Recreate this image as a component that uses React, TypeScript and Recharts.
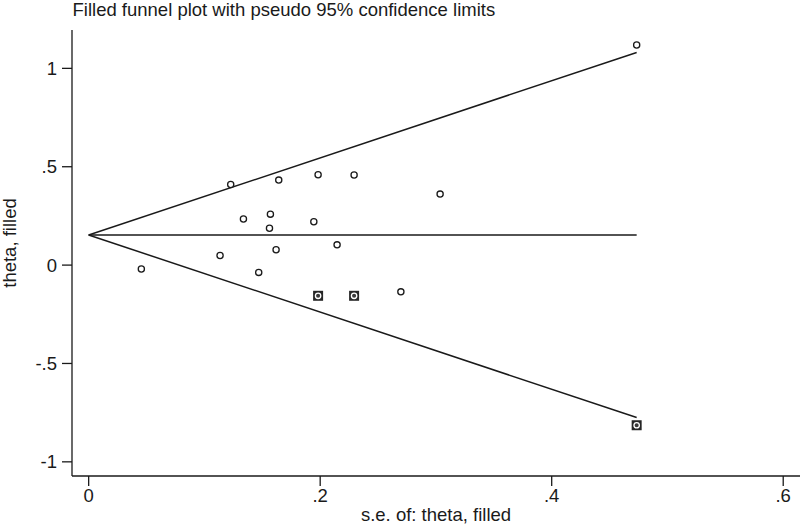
import React from 'react';
import { ComposedChart, Scatter, XAxis, YAxis, Label } from 'recharts';

// Observed studies
const seObserved = [0.0455, 0.1135, 0.1227, 0.1337, 0.1469, 0.1562, 0.157, 0.1619, 0.1642, 0.1945, 0.1982, 0.2146, 0.2293, 0.2697, 0.3036, 0.4734];
const thetaObserved = [-0.02, 0.049, 0.41, 0.234, -0.037, 0.187, 0.259, 0.078, 0.432, 0.22, 0.459, 0.103, 0.458, -0.136, 0.361, 1.119];

// Imputed (filled) studies
const seFilled = [0.1982, 0.2293, 0.4734];
const thetaFilled = [-0.156, -0.156, -0.814];

// Funnel lines (pseudo 95% limits and pooled estimate)
const funnelSe = [0, 0.4734];
const funnelUpper = [0.153, 1.081];
const funnelLower = [0.153, -0.775];
const pooledLine = [0.153, 0.153];

const xTicks = [0, 0.2, 0.4, 0.6];
const yTicks = [-1, -0.5, 0, 0.5, 1];

const title = 'Filled funnel plot with pseudo 95% confidence limits';
const xTitle = 's.e. of: theta, filled';
const yTitle = 'theta, filled';

const toPts = (xs: number[], ys: number[]) => xs.map((x, i) => ({ se: x, theta: ys[i] }));
const observedData = toPts(seObserved, thetaObserved);
const filledData = toPts(seFilled, thetaFilled);
const upperData = toPts(funnelSe, funnelUpper);
const lowerData = toPts(funnelSe, funnelLower);
const pooledData = toPts(funnelSe, pooledLine);

const FONT = '"Liberation Sans", Arial, sans-serif';
const INK = '#1a1a1a';

const fmt = (v: number) => {
  if (v === 0) return '0';
  const s = String(v);
  return s.replace(/^(-?)0\./, '$1.');
};

const OpenCircle = (props: any) => {
  const { cx, cy } = props;
  return <circle cx={cx} cy={cy} r={3.1} fill="#fff" stroke={INK} strokeWidth={1.3} />;
};

const FilledMarker = (props: any) => {
  const { cx, cy } = props;
  return (
    <g>
      <rect x={cx - 5} y={cy - 5} width={10} height={10} fill="#262626" />
      <circle cx={cx} cy={cy} r={2.7} fill="#3a3a3a" stroke="#fff" strokeWidth={1.3} />
    </g>
  );
};

const NoShape = () => <g />;

export default function App() {
  return (
    <div style={{ position: 'absolute', left: 0, top: 0, width: 800, height: 524, background: '#fff' }}>
      <ComposedChart width={800} height={524} margin={{ top: 30, right: 0, bottom: 0, left: 0 }}>
        <XAxis
          type="number"
          dataKey="se"
          domain={[-0.0144, 0.6145]}
          allowDataOverflow
          ticks={xTicks}
          tickFormatter={fmt}
          height={48}
          tickSize={10}
          tickMargin={3}
          axisLine={{ stroke: INK, strokeWidth: 1.3 }}
          tickLine={{ stroke: INK, strokeWidth: 1.3 }}
          tick={{ fill: INK, fontSize: 18.5, fontFamily: FONT }}
        >
          <Label value={xTitle} position="insideBottom" offset={3} fill={INK} fontSize={18.5} fontFamily={FONT} />
        </XAxis>
        <YAxis
          type="number"
          dataKey="theta"
          domain={[-1.072, 1.195]}
          allowDataOverflow
          ticks={yTicks}
          tickFormatter={fmt}
          width={72}
          tickSize={10}
          tickMargin={5}
          axisLine={{ stroke: INK, strokeWidth: 1.3 }}
          tickLine={{ stroke: INK, strokeWidth: 1.3 }}
          tick={{ fill: INK, fontSize: 18.5, fontFamily: FONT }}
        >
          <Label
            content={() => (
              <text
                x={16}
                y={243}
                transform="rotate(-90, 16, 243)"
                textAnchor="middle"
                fill={INK}
                fontSize={18.5}
                fontFamily={FONT}
              >
                {yTitle}
              </text>
            )}
          />
        </YAxis>
        <Scatter data={upperData} line={{ stroke: INK, strokeWidth: 1.5 }} shape={NoShape} isAnimationActive={false} legendType="none" />
        <Scatter data={lowerData} line={{ stroke: INK, strokeWidth: 1.5 }} shape={NoShape} isAnimationActive={false} legendType="none" />
        <Scatter data={pooledData} line={{ stroke: INK, strokeWidth: 1.5 }} shape={NoShape} isAnimationActive={false} legendType="none" />
        <Scatter data={observedData} shape={OpenCircle} isAnimationActive={false} legendType="none" />
        <Scatter data={filledData} shape={FilledMarker} isAnimationActive={false} legendType="none" />
      </ComposedChart>
      <div
        style={{
          position: 'absolute',
          left: 72.5,
          top: 0,
          fontFamily: FONT,
          fontSize: 18.5,
          lineHeight: '20px',
          color: INK,
          whiteSpace: 'nowrap',
        }}
      >
        {title}
      </div>
    </div>
  );
}
